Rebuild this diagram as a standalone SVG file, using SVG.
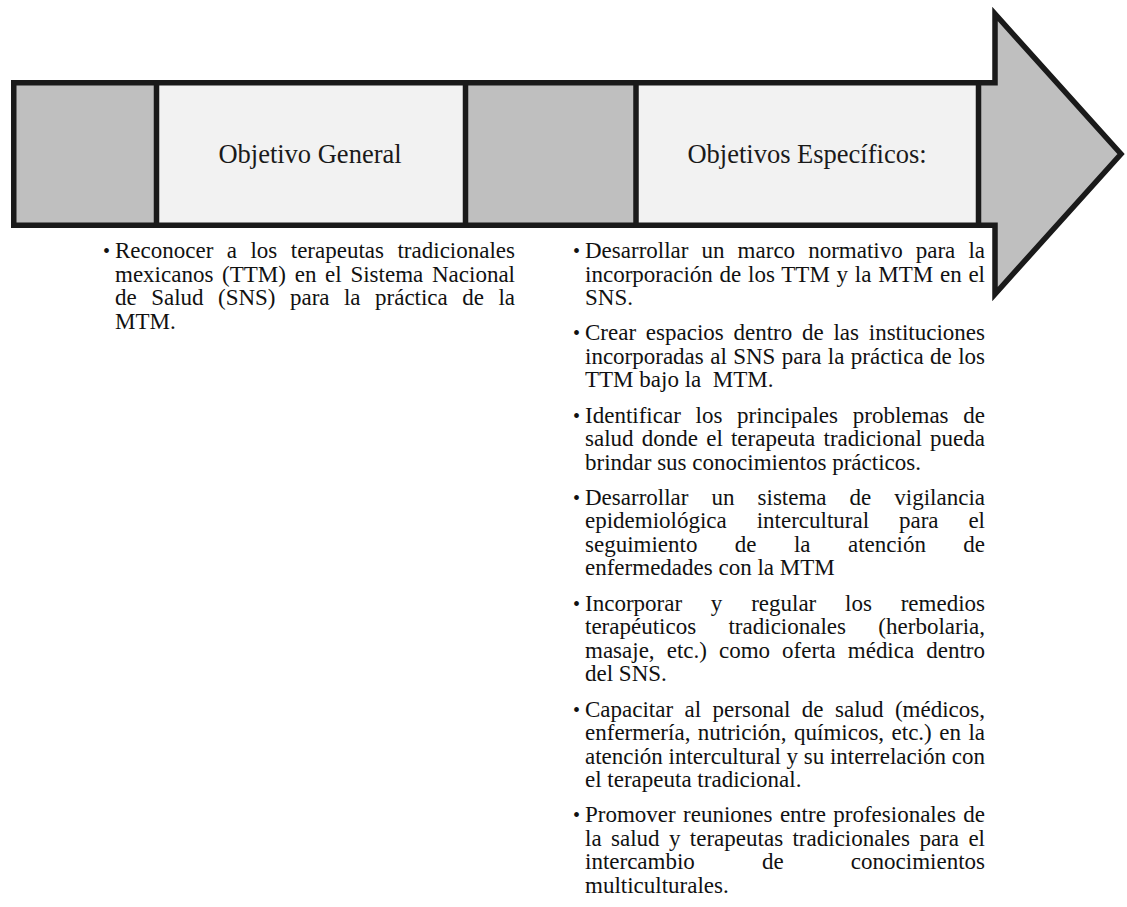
<svg xmlns="http://www.w3.org/2000/svg" width="1127" height="907" viewBox="0 0 1127 907">
<style>
.band{fill:#bfbfbf;stroke:#1a1a1a;stroke-width:5.5;stroke-linejoin:miter}
.box{fill:#f2f2f2;stroke:#1a1a1a;stroke-width:5.5}
.head{font-family:"Liberation Serif","Times New Roman",serif;font-size:26.5px;fill:#1a1a1a;text-anchor:middle}
.t{font-family:"Liberation Serif","Times New Roman",serif;font-size:23px;fill:#111}
.b{font-family:"Liberation Serif","Times New Roman",serif;font-size:20px;fill:#111}
</style>
<rect width="1127" height="907" fill="#ffffff"/>
<g id="arrow">
<polygon class="band" points="13.75,82.75 995,82.75 995,14 1121,154 995,294 995,225.25 13.75,225.25"/>
</g>
<g id="node-general">
<rect class="box" x="156.5" y="82.75" width="309" height="142.5"/>
<text class="head" x="310" y="163">Objetivo General</text>
</g>
<g id="node-especificos">
<rect class="box" x="636" y="82.75" width="342.5" height="142.5"/>
<text class="head" x="807" y="163">Objetivos Específicos:</text>
</g>
<g id="list-general">
<text class="b" x="103" y="258">•</text>
<text class="t" x="115" y="258" word-spacing="7.7" textLength="400" lengthAdjust="spacing">Reconocer a los terapeutas tradicionales</text>
<text class="t" x="115" y="281.5" word-spacing="2.97" textLength="400" lengthAdjust="spacing">mexicanos (TTM) en el Sistema Nacional</text>
<text class="t" x="115" y="305" word-spacing="8.69" textLength="400" lengthAdjust="spacing">de Salud (SNS) para la práctica de la</text>
<text class="t" x="115" y="328.5">MTM.</text>
</g>
<g id="list-especificos">
<text class="b" x="573" y="258">•</text>
<text class="t" x="585" y="258" word-spacing="7.31" textLength="400" lengthAdjust="spacing">Desarrollar un marco normativo para la</text>
<text class="t" x="585" y="281.5" word-spacing="0.97" textLength="400" lengthAdjust="spacing">incorporación de los TTM y la MTM en el</text>
<text class="t" x="585" y="305">SNS.</text>
<text class="b" x="573" y="340.3">•</text>
<text class="t" x="585" y="340.3" word-spacing="3.99" textLength="400" lengthAdjust="spacing">Crear espacios dentro de las instituciones</text>
<text class="t" x="585" y="363.8" word-spacing="0.66" textLength="400" lengthAdjust="spacing">incorporadas al SNS para la práctica de los</text>
<text class="t" x="585" y="387.3">TTM bajo la&#160; MTM.</text>
<text class="b" x="573" y="422.6">•</text>
<text class="t" x="585" y="422.6" word-spacing="8.98" textLength="400" lengthAdjust="spacing">Identificar los principales problemas de</text>
<text class="t" x="585" y="446.1" word-spacing="2.45" textLength="400" lengthAdjust="spacing">salud donde el terapeuta tradicional pueda</text>
<text class="t" x="585" y="469.6">brindar sus conocimientos prácticos.</text>
<text class="b" x="573" y="504.9">•</text>
<text class="t" x="585" y="504.9" word-spacing="17.28" textLength="400" lengthAdjust="spacing">Desarrollar un sistema de vigilancia</text>
<text class="t" x="585" y="528.4" word-spacing="24.11" textLength="400" lengthAdjust="spacing">epidemiológica intercultural para el</text>
<text class="t" x="585" y="551.9" word-spacing="31.65" textLength="400" lengthAdjust="spacing">seguimiento de la atención de</text>
<text class="t" x="585" y="575.4">enfermedades con la MTM</text>
<text class="b" x="573" y="610.7">•</text>
<text class="t" x="585" y="610.7" word-spacing="23.03" textLength="400" lengthAdjust="spacing">Incorporar y regular los remedios</text>
<text class="t" x="585" y="634.2" word-spacing="26.6" textLength="400" lengthAdjust="spacing">terapéuticos tradicionales (herbolaria,</text>
<text class="t" x="585" y="657.7" word-spacing="6.29" textLength="400" lengthAdjust="spacing">masaje, etc.) como oferta médica dentro</text>
<text class="t" x="585" y="681.2">del SNS.</text>
<text class="b" x="573" y="716.5">•</text>
<text class="t" x="585" y="716.5" word-spacing="5.65" textLength="400" lengthAdjust="spacing">Capacitar al personal de salud (médicos,</text>
<text class="t" x="585" y="740" word-spacing="1.69" textLength="400" lengthAdjust="spacing">enfermería, nutrición, químicos, etc.) en la</text>
<text class="t" x="585" y="763.5" textLength="400" lengthAdjust="spacing">atención intercultural y su interrelación con</text>
<text class="t" x="585" y="787">el terapeuta tradicional.</text>
<text class="b" x="573" y="822.3">•</text>
<text class="t" x="585" y="822.3" word-spacing="1.63" textLength="400" lengthAdjust="spacing">Promover reuniones entre profesionales de</text>
<text class="t" x="585" y="845.8" word-spacing="3.65" textLength="400" lengthAdjust="spacing">la salud y terapeutas tradicionales para el</text>
<text class="t" x="585" y="869.3" word-spacing="61.4" textLength="400" lengthAdjust="spacing">intercambio de conocimientos</text>
<text class="t" x="585" y="892.8">multiculturales.</text>
</g>
</svg>
